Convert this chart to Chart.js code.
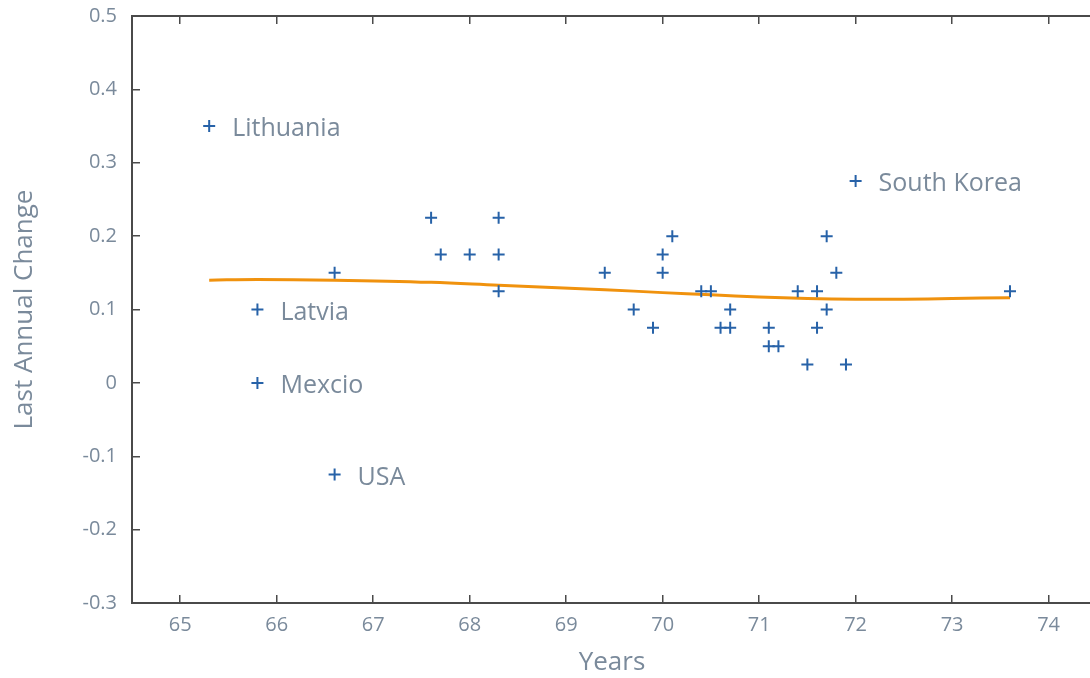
<!DOCTYPE html>
<html>
<head>
<meta charset="utf-8">
<script src="https://cdn.jsdelivr.net/npm/chart.js@4"></script>
<style>
  html, body { margin: 0; padding: 0; overflow: hidden; background: #fff; }
  #wrap { width: 1100px; height: 678px; position: relative; }
</style>
</head>
<body>
<div id="wrap"><canvas id="c"></canvas></div>
<script>
// ---- data ----
const years = [65.3, 65.8, 65.8, 66.6, 66.6, 67.6, 67.7, 68.0, 68.3, 68.3, 68.3, 69.4, 69.7, 69.9, 70.0, 70.0, 70.1,
               70.4, 70.5, 70.6, 70.7, 70.7, 71.1, 71.1, 71.2, 71.4, 71.5, 71.6, 71.6, 71.7, 71.7, 71.8, 71.9, 72.0, 73.6];
const annualChange = [0.35, 0.10, 0.00, -0.125, 0.15, 0.225, 0.175, 0.175, 0.225, 0.175, 0.125, 0.15, 0.10, 0.075, 0.175, 0.15, 0.20,
               0.125, 0.125, 0.075, 0.075, 0.10, 0.075, 0.05, 0.05, 0.125, 0.025, 0.125, 0.075, 0.20, 0.10, 0.15, 0.025, 0.275, 0.125];
const labelTexts = ["Lithuania", "Latvia", "Mexcio", "USA", "South Korea"];
const labelIndex = [0, 1, 2, 3, 33];
const trendX = [65.3, 65.8, 66.6, 67.6, 68.3, 69.4, 70.0, 70.5, 71.0, 71.5, 72.0, 72.5, 73.0, 73.6];
const trendY = [0.140, 0.141, 0.140, 0.137, 0.133, 0.127, 0.123, 0.120, 0.117, 0.115, 0.114, 0.114, 0.115, 0.116];
const xTicks = [65, 66, 67, 68, 69, 70, 71, 72, 73, 74];
const yTicks = [-0.3, -0.2, -0.1, 0, 0.1, 0.2, 0.3, 0.4, 0.5];

const textColor = '#7a8a9b';
const axisColor = '#4a4a4a';
const fontFamily = '"Open Sans", "Noto Sans", sans-serif';

const points = years.map((x, i) => ({ x: x, y: annualChange[i] }));
const trend = trendX.map((x, i) => ({ x: x, y: trendY[i] }));

const labelPlugin = {
  id: 'pointLabels',
  afterDatasetsDraw(chart) {
    const ctx = chart.ctx;
    const xs = chart.scales.x, ys = chart.scales.y;
    ctx.save();
    ctx.font = '25px ' + fontFamily;
    ctx.fillStyle = textColor;
    ctx.textAlign = 'left';
    ctx.textBaseline = 'middle';
    labelTexts.forEach((t, k) => {
      const i = labelIndex[k];
      const px = xs.getPixelForValue(years[i]);
      const py = ys.getPixelForValue(annualChange[i]);
      ctx.fillText(t, px + 23, py + 3);
    });
    ctx.restore();
  }
};

const setTicks = (vals) => (scale) => { scale.ticks = vals.map(v => ({ value: v })); };

new Chart(document.getElementById('c'), {
  type: 'scatter',
  data: {
    datasets: [
      {
        data: points,
        pointStyle: 'cross',
        pointRadius: 6,
        pointHoverRadius: 6,
        borderColor: '#2762a8',
        backgroundColor: '#2762a8',
        borderWidth: 2,
        order: 1
      },
      {
        type: 'line',
        data: trend,
        borderColor: '#f0920e',
        borderWidth: 3,
        pointRadius: 0,
        tension: 0.4,
        fill: false,
        order: 2
      }
    ]
  },
  options: {
    responsive: true,
    maintainAspectRatio: false,
    animation: false,
    events: [],
    layout: { padding: { left: 0, top: 16, right: 6, bottom: 0 } },
    plugins: { legend: { display: false }, tooltip: { enabled: false } },
    scales: {
      x: {
        type: 'linear', position: 'bottom', min: 64.5, max: 74.45,
        afterBuildTicks: setTicks(xTicks),
        afterFit: (s) => { s.height = 75; s.paddingLeft = 0; s.paddingRight = 0; },
        border: { display: true, color: axisColor, width: 2 },
        grid: { drawOnChartArea: false, drawTicks: true, tickLength: -8, color: axisColor, lineWidth: 1.5 },
        ticks: { color: textColor, font: { family: fontFamily, size: 20 }, padding: 18, maxRotation: 0 },
        title: { display: true, text: 'Years', color: textColor, font: { family: fontFamily, size: 26 }, padding: { top: 0, bottom: 0 } }
      },
      x2: {
        type: 'linear', position: 'top', min: 64.5, max: 74.45,
        afterBuildTicks: setTicks(xTicks),
        afterFit: (s) => { s.height = 0; s.paddingLeft = 0; s.paddingRight = 0; },
        border: { display: true, color: axisColor, width: 2 },
        grid: { drawOnChartArea: false, drawTicks: true, tickLength: -8, color: axisColor, lineWidth: 1.5 },
        ticks: { display: false }
      },
      y: {
        type: 'linear', position: 'left', min: -0.3, max: 0.5,
        afterBuildTicks: setTicks(yTicks),
        afterFit: (s) => { s.width = 132; s.paddingTop = 0; s.paddingBottom = 0; },
        border: { display: true, color: axisColor, width: 2 },
        grid: { drawOnChartArea: false, drawTicks: true, tickLength: -8, color: axisColor, lineWidth: 1.5 },
        ticks: { color: textColor, font: { family: fontFamily, size: 20 }, padding: 23 },
        title: { display: true, text: 'Last Annual Change', color: textColor, font: { family: fontFamily, size: 26 }, padding: { top: 9, bottom: 0 } }
      }
    }
  },
  plugins: [labelPlugin]
});
</script>
</body>
</html>
